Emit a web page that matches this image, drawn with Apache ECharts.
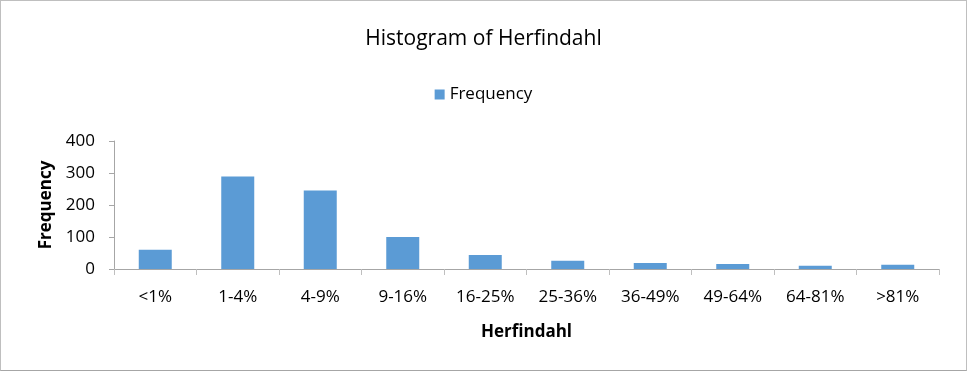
<!DOCTYPE html>
<html><head><meta charset="utf-8">
<script src="https://cdn.jsdelivr.net/npm/echarts@6/dist/echarts.min.js"></script>
<style>html,body{margin:0;padding:0;background:#fff}#c{width:967px;height:371px;box-sizing:border-box;border:1px solid #bfbfbf;border-bottom-color:#a6a6a6}</style>
</head><body><div id="c"></div>
<script>
const categories = ['<1%','1-4%','4-9%','9-16%','16-25%','25-36%','36-49%','49-64%','64-81%','>81%'];
const frequency = [60, 289, 245, 100, 44, 26, 19, 16, 10, 13];
const yTicks = [0, 100, 200, 300, 400];

const chart = echarts.init(document.getElementById('c'));
const font = '"Open Sans", "Liberation Sans", sans-serif';
chart.setOption({
  animation: false,
  textStyle: {fontFamily: font},
  title: {text: 'Histogram of Herfindahl', left: 'center', top: 23,
    textStyle: {fontSize: 21, fontWeight: 'normal', color: '#000', fontFamily: font}},
  legend: {top: 80, left: 'center', itemWidth: 10, itemHeight: 10, itemGap: 6,
    icon: 'rect', textStyle: {fontSize: 17, color: '#000', fontFamily: font}},
  grid: {left: 113, right: 27, top: 140, bottom: 101, containLabel: false},
  xAxis: {type: 'category', data: categories, name: 'Herfindahl', nameLocation: 'middle', nameGap: 55,
    nameTextStyle: {fontSize: 17, fontWeight: 'bold', color: '#000', fontFamily: font},
    axisLine: {lineStyle: {color: '#a6a6a6', width: 1}},
    axisTick: {show: true, length: 6, lineStyle: {color: '#bfbfbf'}, alignWithLabel: false},
    axisLabel: {fontSize: 17, color: '#000', margin: 20, fontFamily: font}},
  yAxis: {type: 'value', min: yTicks[0], max: yTicks[yTicks.length-1], interval: 100,
    name: 'Frequency', nameLocation: 'middle', nameGap: 59, nameRotate: 90,
    nameTextStyle: {fontSize: 17, fontWeight: 'bold', color: '#000', fontFamily: font},
    axisLine: {show: true, lineStyle: {color: '#a6a6a6'}},
    axisTick: {show: true, length: 5, lineStyle: {color: '#a6a6a6'}},
    splitLine: {show: false},
    axisLabel: {fontSize: 17, color: '#000', margin: 19, fontFamily: font}},
  series: [{name: 'Frequency', type: 'bar', data: frequency, barWidth: '40%',
    itemStyle: {color: '#5b9bd5'}}]
});
</script></body></html>
